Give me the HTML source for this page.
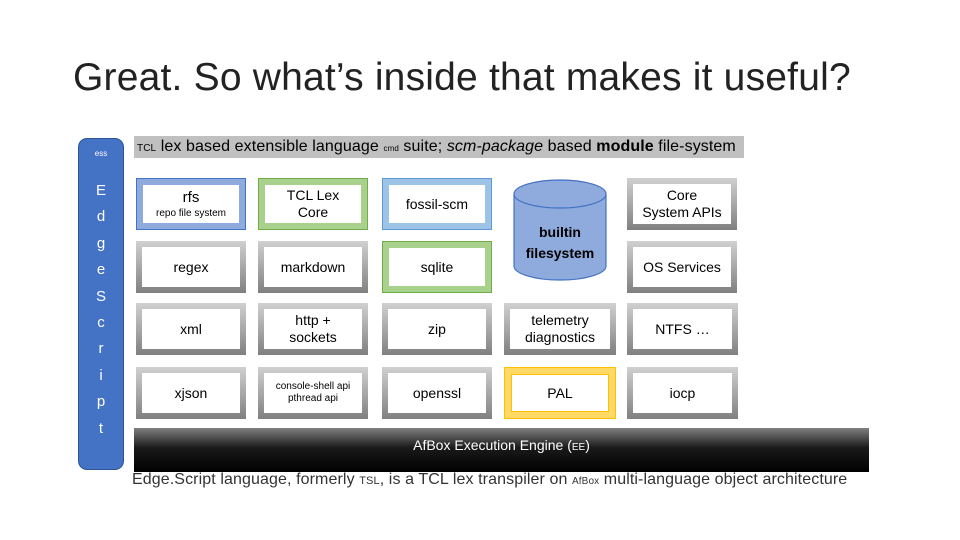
<!DOCTYPE html>
<html><head><meta charset="utf-8"><style>
*{margin:0;padding:0;box-sizing:border-box}
body{width:960px;height:540px;background:#fff;position:relative;overflow:hidden;font-family:"Liberation Sans",sans-serif;}
.a{position:absolute}
.box{position:absolute;width:110px;height:52px;padding:6px;}
.box .in{background:#fff;width:100%;height:100%;display:flex;flex-direction:column;align-items:center;justify-content:center;text-align:center;font-size:14px;line-height:17px;color:#000}
.g{background:linear-gradient(#d0d0d0,#808080);}
.b{background:#8faadc;border:1px solid #4472c4}
.gr{background:#a9d18e;border:1px solid #70ad47}
.lb{background:#9dc3e6;border:1px solid #5b9bd5}
.y{background:#ffd966;border:1px solid #ffc000}
.y .in{border:1px solid #ffc000}
.box .in .sm{font-size:10px;line-height:12px}
</style></head><body>
<div class="a" style="left:73px;top:56px;font-size:39px;color:#222;letter-spacing:0.2px">Great. So what’s inside that makes it useful?</div>

<div class="a" style="left:78px;top:138px;width:46px;height:332px;background:#4472c4;border:1px solid #2f5597;border-radius:9px;color:#fff;text-align:center;font-size:15px">
<div style="font-size:8px;margin-top:10px">ess</div>
<div style="margin-top:20px;line-height:26.4px">E<br>d<br>g<br>e<br>S<br>c<br>r<br>i<br>p<br>t</div>
</div>

<div class="a" style="left:134px;top:136px;width:610px;height:22px;background:#c0c0c0;font-size:16px;line-height:22px;padding-left:3px;white-space:nowrap;color:#000;letter-spacing:0.1px;overflow:hidden"><span style="font-size:10px">TCL</span> lex based extensible language <span style="font-size:8px">cmd</span> suite; <i>scm-package</i> based <b>module</b> file-system</div>

<div class="box b" style="left:136px;top:178px"><div class="in"><div style="font-size:15px">rfs</div><div class="sm" style="margin-top:2px">repo file system</div></div></div>
<div class="box gr" style="left:258px;top:178px"><div class="in">TCL Lex<br>Core</div></div>
<div class="box lb" style="left:382px;top:178px"><div class="in">fossil-scm</div></div>
<div class="box g" style="left:627px;top:178px"><div class="in">Core<br>System APIs</div></div>

<svg class="a" style="left:512px;top:178px" width="96" height="106">
<path d="M2 16 L2 88 A46 14 0 0 0 94 88 L94 16" fill="#8faadc" stroke="#4472c4" stroke-width="1.2"/>
<ellipse cx="48" cy="16" rx="46" ry="14" fill="#8faadc" stroke="#4472c4" stroke-width="1.2"/>
<text x="48" y="59" font-size="14" text-anchor="middle" font-family="Liberation Sans" font-weight="bold">builtin</text>
<text x="48" y="80" font-size="14" text-anchor="middle" font-family="Liberation Sans" font-weight="bold">filesystem</text>
</svg>

<div class="box g" style="left:136px;top:241px"><div class="in">regex</div></div>
<div class="box g" style="left:258px;top:241px"><div class="in">markdown</div></div>
<div class="box gr" style="left:382px;top:241px"><div class="in">sqlite</div></div>
<div class="box g" style="left:627px;top:241px"><div class="in">OS Services</div></div>

<div class="box g" style="left:136px;top:303px"><div class="in">xml</div></div>
<div class="box g" style="left:258px;top:303px"><div class="in">http +<br>sockets</div></div>
<div class="box g" style="left:382px;top:303px"><div class="in">zip</div></div>
<div class="box g" style="left:504px;top:303px;width:112px"><div class="in">telemetry<br>diagnostics</div></div>
<div class="box g" style="left:627px;top:303px;width:111px"><div class="in">NTFS …</div></div>

<div class="box g" style="left:136px;top:367px"><div class="in">xjson</div></div>
<div class="box g" style="left:258px;top:367px"><div class="in"><div class="sm">console-shell api<br>pthread api</div></div></div>
<div class="box g" style="left:382px;top:367px"><div class="in">openssl</div></div>
<div class="box y" style="left:504px;top:367px;width:112px"><div class="in">PAL</div></div>
<div class="box g" style="left:627px;top:367px;width:111px"><div class="in">iocp</div></div>

<div class="a" style="left:134px;top:428px;width:735px;height:44px;background:linear-gradient(#808080 0%,#1a1a1a 45%,#000 100%);color:#fff;font-size:14px;text-align:center;line-height:34px">AfBox Execution Engine (<span style="font-size:10px">EE</span>)</div>

<div class="a" style="left:132px;top:471px;font-size:16px;color:#333;white-space:nowrap;letter-spacing:0.1px">Edge.Script language, formerly <span style="font-size:11px">TSL</span>, is a TCL lex transpiler on <span style="font-size:10px">AfBox</span> multi-language object architecture</div>
</body></html>
